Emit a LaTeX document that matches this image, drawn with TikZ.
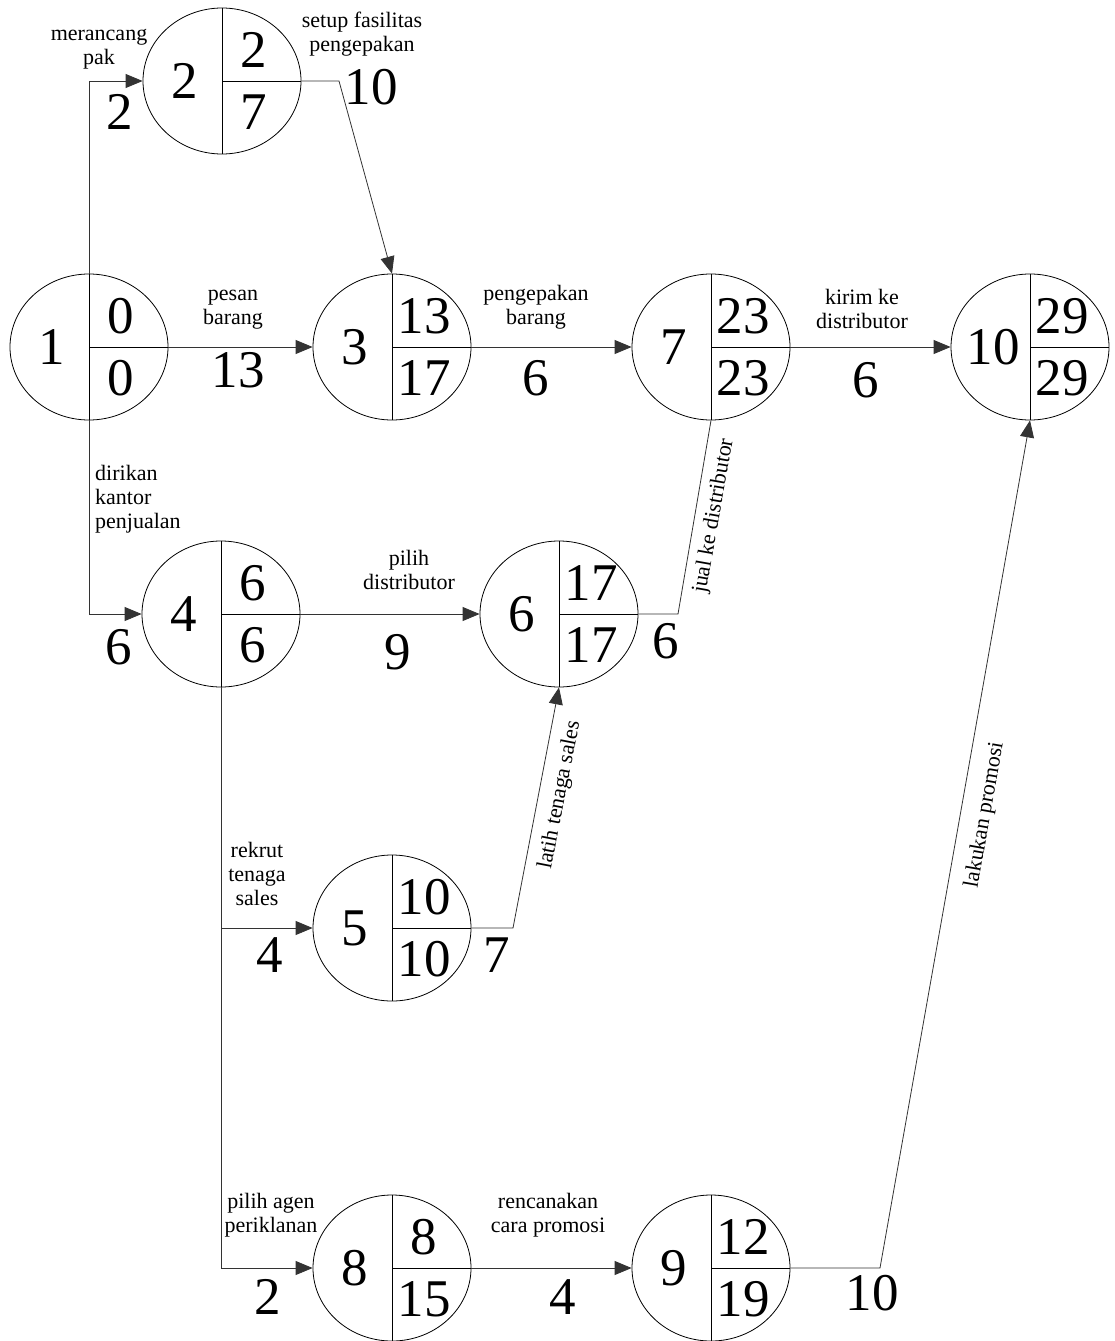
\documentclass[tikz,border=0pt]{standalone}
\usepackage{fontspec}
\setmainfont{Liberation Serif}
\usetikzlibrary{arrows.meta,shapes.geometric}

% event circle: number on the left, earliest/latest times on the right
\newcommand\eventnode[6]{%
  \node[event] (#1) at (#2,#3) {};
  \draw[divider] (#1.north) -- (#1.south);
  \draw[divider] (#1.center) -- (#1.east);
  \node[bignum] (#1-id) at ([xshift=-37pt]#1.center) {#4};
  \node[bignum] (#1-es) at ([xshift=32pt,yshift=31pt]#1.center) {#5};
  \node[bignum] (#1-ls) at ([xshift=32pt,yshift=-31pt]#1.center) {#6};
}

\tikzset{
  event/.style={ellipse, draw, line width=0.8pt, minimum width=158pt,
    minimum height=146pt, inner sep=0pt},
  divider/.style={line width=0.8pt},
  conn/.style={line width=0.8pt, draw=black!80},
  arr/.style={conn, -{Triangle[length=17pt,width=14pt]}},
  bignum/.style={inner sep=0pt, font=\fontsize{53}{60}\selectfont},
  dur/.style={inner sep=0pt, font=\fontsize{53}{60}\selectfont},
  task/.style={inner sep=0pt, align=center, font=\fontsize{22}{24}\selectfont},
  tasksl/.style={task, align=left}
}

\begin{document}
\begin{tikzpicture}[x=1pt, y=-1pt]
\useasboundingbox (0,0) rectangle (1114,1341);

% events
\eventnode{n1}{89}{347}{1}{0}{0}
\eventnode{n2}{222}{81}{2}{2}{7}
\eventnode{n3}{392}{347}{3}{13}{17}
\eventnode{n7}{711}{347}{7}{23}{23}
\eventnode{n10}{1030}{347}{10}{29}{29}
\eventnode{n4}{221}{614}{4}{6}{6}
\eventnode{n6}{559}{614}{6}{17}{17}
\eventnode{n5}{392}{928}{5}{10}{10}
\eventnode{n8}{392}{1268}{8}{8}{15}
\eventnode{n9}{711}{1268}{9}{12}{19}

% bend points
\coordinate (b23) at (339,81);
\coordinate (b67) at (678,614);
\coordinate (b56) at (513,928);
\coordinate (b910) at (880,1268);

% activities
\draw[arr] (n1.north) |- (n2.west);
\draw[arr] (n1.south) |- (n4.west);
\draw[arr] (n1.east) -- (n3.west);
\draw[arr] (n2.east) -- (b23) -- (n3.north);
\draw[arr] (n3.east) -- (n7.west);
\draw[arr] (n7.east) -- (n10.west);
\draw[arr] (n4.east) -- (n6.west);
\draw[arr] (n4.south) |- (n5.west);
\draw[arr] (n4.south) |- (n8.west);
\draw[conn] (n6.east) -- (b67) -- (n7.south);
\draw[arr] (n5.east) -- (b56) -- (n6.south);
\draw[arr] (n8.east) -- (n9.west);
\draw[arr] (n9.east) -- (b910) -- (n10.south);

% activity names
\node[task] (t12) at (99,49) {merancang\\pak};
\node[task] (t23) at (362,34) {setup fasilitas\\pengepakan};
\node[task] (t13) at (233,310) {pesan\\barang};
\node[task] (t37) at (536,307) {pengepakan\\barang};
\node[task] (t710) at (862,309) {kirim ke\\distributor};
\node[tasksl, anchor=north west] (t14) at (95,465) {dirikan\\kantor\\penjualan};
\node[task] (t46) at (409,570) {pilih\\distributor};
\node[task] (t45) at (257,874) {rekrut\\tenaga\\sales};
\node[task] (t48) at (271,1215) {pilih agen\\periklanan};
\node[task] (t89) at (548,1215) {rencanakan\\cara promosi};
\node[task, rotate=80] (t67) at (714,516) {jual ke distributor};
\node[task, rotate=79] (t56) at (560,795) {latih tenaga sales};
\node[task, rotate=80] (t910) at (985,815) {lakukan promosi};

% durations
\node[dur] (d12) at (120,112) {2};
\node[dur] (d23) at (371,87) {10};
\node[dur] (d13) at (238,370) {13};
\node[dur] (d37) at (536,378) {6};
\node[dur] (d710) at (866,380) {6};
\node[dur] (d14) at (119,647) {6};
\node[dur] (d46) at (398,652) {9};
\node[dur] (d67) at (666,641) {6};
\node[dur] (d45) at (270,955) {4};
\node[dur] (d56) at (497,955) {7};
\node[dur] (d48) at (268,1297) {2};
\node[dur] (d89) at (563,1297) {4};
\node[dur] (d910) at (872,1293) {10};
\end{tikzpicture}
\end{document}
